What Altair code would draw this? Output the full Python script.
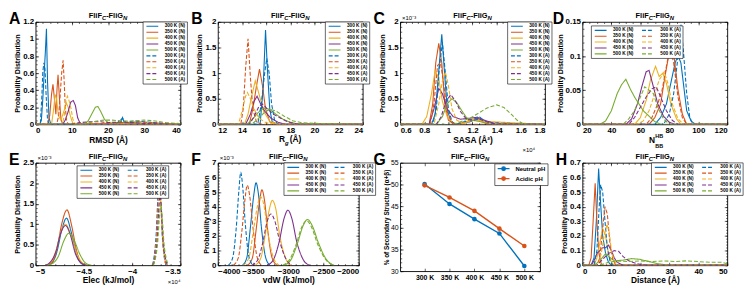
import altair as alt
import pandas as pd

FONT = "Liberation Sans"
temps = ["300 K", "350 K", "400 K", "450 K", "500 K"]
palette = ["#0072BD", "#D95319", "#EDB120", "#7E2F8E", "#77AC30"]
lab_N = [t + " (N)" for t in temps]
lab_A = [t + " (A)" for t in temps]
order1 = lab_N + lab_A

# ---------------- data ----------------
rmsd = {
    "300 K (N)": [(0, 0), (1.2, 0), (1.6, 0.05), (2.0, 0.3), (2.4, 0.62), (2.7, 0.85), (3.0, 1.12), (3.3, 0.5), (3.7, 0.08), (4.2, 0), (20, 0), (22, 0.01), (23.5, 0.02), (24, 0.08), (24.5, 0.02), (26, 0.01), (40, 0)],
    "350 K (N)": [(0, 0), (3.3, 0), (3.9, 0.1), (4.4, 0.35), (4.8, 0.47), (5.2, 0.3), (5.6, 0.12), (5.9, 0.4), (6.2, 0.58), (6.6, 0.3), (7.0, 0.06), (7.5, 0), (20, 0.01), (25, 0.02), (30, 0.01), (40, 0)],
    "400 K (N)": [(0, 0), (4.4, 0), (4.9, 0.15), (5.4, 0.35), (5.8, 0.3), (6.3, 0.1), (7.0, 0.05), (7.8, 0.15), (8.5, 0.25), (9.0, 0.2), (9.6, 0.1), (10.2, 0.02), (11, 0), (40, 0)],
    "450 K (N)": [(0, 0), (7.5, 0), (8.2, 0.05), (9.0, 0.15), (9.7, 0.26), (10.4, 0.28), (11.0, 0.22), (11.6, 0.08), (12.3, 0.01), (13, 0), (40, 0)],
    "500 K (N)": [(0, 0), (13.5, 0), (14.5, 0.04), (15.5, 0.12), (16.5, 0.2), (17.2, 0.21), (18, 0.15), (19, 0.06), (20, 0.02), (21, 0.01), (25, 0.02), (30, 0.01), (40, 0)],
    "300 K (A)": [(0, 0), (1.3, 0), (1.7, 0.3), (2.0, 0.62), (2.3, 0.72), (2.6, 0.65), (2.9, 0.35), (3.3, 0.05), (3.8, 0), (22, 0), (24, 0.07), (25, 0.02), (27, 0.04), (30, 0.03), (33, 0.02), (40, 0)],
    "350 K (A)": [(0, 0), (5.8, 0), (6.4, 0.1), (6.8, 0.35), (7.2, 0.6), (7.6, 0.75), (7.9, 0.5), (8.2, 0.2), (8.6, 0.03), (9.2, 0), (25, 0.02), (28, 0.03), (32, 0.02), (40, 0)],
    "400 K (A)": [(0, 0), (7.4, 0), (7.9, 0.1), (8.4, 0.28), (8.8, 0.33), (9.3, 0.27), (9.8, 0.18), (10.3, 0.06), (11, 0), (40, 0)],
    "450 K (A)": [(0, 0), (10, 0), (12, 0.02), (15, 0.03), (18, 0.03), (20, 0.02), (24, 0.03), (27, 0.02), (30, 0.01), (40, 0)],
    "500 K (A)": [(0, 0), (13, 0), (15, 0.02), (17, 0.04), (19, 0.05), (21, 0.05), (24, 0.04), (27, 0.04), (30, 0.05), (33, 0.04), (36, 0.02), (40, 0.01)],
}

rg = {
    "300 K (N)": [(12, 0), (15.5, 0), (15.75, 0.7), (15.95, 1.84), (16.1, 1.1), (16.3, 0.3), (16.5, 0.05), (17, 0), (24, 0)],
    "350 K (N)": [(12, 0), (14.6, 0), (14.9, 0.3), (15.2, 0.75), (15.45, 1.08), (15.7, 0.75), (15.95, 0.3), (16.3, 0.05), (16.8, 0), (24, 0)],
    "400 K (N)": [(12, 0), (14.2, 0), (14.5, 0.2), (14.8, 0.55), (15.1, 0.85), (15.4, 0.6), (15.8, 0.25), (16.3, 0.06), (17, 0), (24, 0)],
    "450 K (N)": [(12, 0), (14.3, 0), (14.7, 0.2), (15.0, 0.45), (15.25, 0.55), (15.5, 0.42), (15.9, 0.25), (16.4, 0.12), (17, 0.04), (17.6, 0), (24, 0)],
    "500 K (N)": [(12, 0), (14.4, 0), (14.8, 0.08), (15.3, 0.22), (15.8, 0.32), (16.3, 0.29), (16.8, 0.2), (17.4, 0.1), (18.0, 0.04), (18.6, 0.01), (19, 0), (24, 0)],
    "300 K (A)": [(12, 0), (15.3, 0), (15.6, 0.4), (15.85, 0.95), (16.05, 1.29), (16.25, 1.0), (16.45, 0.4), (16.7, 0.08), (17, 0), (24, 0)],
    "350 K (A)": [(12, 0), (13.9, 0), (14.1, 0.3), (14.3, 1.1), (14.5, 1.67), (14.7, 0.9), (14.9, 0.3), (15.2, 0.05), (15.6, 0), (24, 0)],
    "400 K (A)": [(12, 0), (13.7, 0), (14.0, 0.25), (14.3, 0.55), (14.45, 0.62), (14.7, 0.5), (15.0, 0.3), (15.4, 0.12), (16, 0.03), (17, 0), (24, 0)],
    "450 K (A)": [(12, 0), (14.6, 0), (15.0, 0.15), (15.4, 0.35), (15.7, 0.4), (16.1, 0.3), (16.6, 0.2), (17.2, 0.12), (17.8, 0.05), (18.5, 0.01), (19, 0), (24, 0)],
    "500 K (A)": [(12, 0), (14.8, 0), (15.3, 0.1), (15.8, 0.22), (16.3, 0.3), (16.8, 0.26), (17.5, 0.16), (18.2, 0.07), (19, 0.03), (20, 0.02), (22, 0.01), (24, 0)],
}

sasa = {
    "300 K (N)": [(0.6, 0), (0.86, 0), (0.89, 0.2), (0.915, 0.9), (0.945, 1.76), (0.965, 1.1), (0.99, 0.3), (1.02, 0.05), (1.05, 0), (1.18, 0.05), (1.24, 0.12), (1.3, 0.05), (1.35, 0), (1.8, 0)],
    "350 K (N)": [(0.6, 0), (0.84, 0), (0.87, 0.4), (0.895, 1.2), (0.92, 1.58), (0.945, 1.2), (0.97, 0.4), (1.0, 0.08), (1.05, 0), (1.2, 0.08), (1.25, 0.1), (1.3, 0.03), (1.35, 0), (1.8, 0)],
    "400 K (N)": [(0.6, 0), (0.78, 0), (0.82, 0.15), (0.86, 0.6), (0.89, 1.05), (0.92, 0.9), (0.95, 0.45), (0.99, 0.15), (1.04, 0.03), (1.1, 0), (1.22, 0.1), (1.28, 0.06), (1.8, 0)],
    "450 K (N)": [(0.6, 0), (0.84, 0), (0.88, 0.3), (0.92, 0.7), (0.95, 0.6), (0.99, 0.3), (1.04, 0.15), (1.1, 0.1), (1.18, 0.12), (1.24, 0.14), (1.3, 0.08), (1.38, 0.02), (1.8, 0)],
    "500 K (N)": [(0.6, 0), (0.9, 0), (0.95, 0.15), (0.99, 0.4), (1.03, 0.5), (1.07, 0.42), (1.11, 0.27), (1.15, 0.13), (1.2, 0.08), (1.25, 0.06), (1.3, 0.03), (1.4, 0), (1.8, 0)],
    "300 K (A)": [(0.6, 0), (0.87, 0), (0.9, 0.3), (0.925, 1.1), (0.95, 1.6), (0.975, 1.0), (1.0, 0.3), (1.03, 0.05), (1.06, 0), (1.2, 0.1), (1.26, 0.14), (1.32, 0.03), (1.8, 0)],
    "350 K (A)": [(0.6, 0), (0.85, 0), (0.88, 0.4), (0.91, 1.15), (0.935, 1.2), (0.96, 0.8), (0.99, 0.25), (1.03, 0.03), (1.06, 0), (1.8, 0)],
    "400 K (A)": [(0.6, 0), (0.88, 0), (0.92, 0.4), (0.95, 0.85), (0.975, 1.02), (1.0, 0.75), (1.03, 0.3), (1.07, 0.08), (1.12, 0.02), (1.2, 0.1), (1.27, 0.08), (1.35, 0.01), (1.8, 0)],
    "450 K (A)": [(0.6, 0), (0.9, 0), (0.94, 0.15), (0.98, 0.45), (1.02, 0.58), (1.06, 0.45), (1.1, 0.25), (1.15, 0.1), (1.2, 0.08), (1.26, 0.1), (1.33, 0.04), (1.4, 0), (1.8, 0)],
    "500 K (A)": [(0.6, 0), (1.05, 0), (1.1, 0.05), (1.18, 0.12), (1.25, 0.22), (1.32, 0.32), (1.4, 0.38), (1.46, 0.33), (1.52, 0.2), (1.57, 0.08), (1.62, 0.01), (1.66, 0), (1.8, 0)],
}

nhb = {
    "300 K (N)": [(20, 0), (70, 0), (74, 0.01), (78, 0.03), (81, 0.06), (84, 0.09), (86, 0.101), (88, 0.09), (90, 0.055), (92, 0.02), (95, 0.005), (98, 0), (120, 0)],
    "350 K (N)": [(20, 0), (66, 0), (70, 0.01), (74, 0.03), (77, 0.07), (79.5, 0.1), (81.5, 0.12), (83.5, 0.095), (86, 0.05), (89, 0.015), (92, 0), (120, 0)],
    "400 K (N)": [(20, 0), (56, 0), (60, 0.01), (64, 0.035), (67, 0.065), (70.5, 0.085), (73, 0.07), (75.5, 0.075), (78, 0.06), (81, 0.03), (85, 0.008), (88, 0), (120, 0)],
    "450 K (N)": [(20, 0), (50, 0), (54, 0.008), (58, 0.03), (61, 0.055), (64, 0.077), (66, 0.079), (69, 0.055), (72, 0.03), (76, 0.012), (80, 0.003), (84, 0), (120, 0)],
    "500 K (N)": [(20, 0), (32, 0), (36, 0.005), (40, 0.02), (44, 0.045), (47, 0.058), (50, 0.066), (53, 0.052), (56, 0.04), (59, 0.03), (62, 0.02), (66, 0.012), (70, 0.004), (74, 0), (120, 0)],
    "300 K (A)": [(20, 0), (76, 0), (80, 0.015), (83, 0.045), (85.5, 0.09), (88, 0.146), (90, 0.1), (92, 0.045), (94, 0.012), (96, 0), (120, 0)],
    "350 K (A)": [(20, 0), (64, 0), (68, 0.01), (72, 0.03), (75, 0.05), (78, 0.085), (80.5, 0.112), (83, 0.09), (86, 0.04), (89, 0.01), (92, 0), (120, 0)],
    "400 K (A)": [(20, 0), (58, 0), (62, 0.005), (66, 0.02), (70, 0.045), (73, 0.065), (76.5, 0.077), (79, 0.06), (82, 0.03), (86, 0.008), (90, 0), (120, 0)],
    "450 K (A)": [(20, 0), (52, 0), (56, 0.01), (60, 0.025), (64, 0.04), (68, 0.052), (71, 0.055), (74, 0.04), (78, 0.02), (82, 0.006), (86, 0), (120, 0)],
    "500 K (A)": [(20, 0), (48, 0), (52, 0.008), (56, 0.02), (60, 0.04), (63, 0.055), (66, 0.05), (69, 0.045), (72, 0.025), (76, 0.008), (80, 0), (120, 0)],
}

elec = {
    "300 K (N)": list(zip([-4.88, -4.83, -4.78, -4.73, -4.68, -4.63, -4.58, -4.53, -4.48], [0, 0.06, 0.32, 0.85, 1.15, 0.8, 0.3, 0.05, 0])),
    "350 K (N)": list(zip([-4.88, -4.83, -4.78, -4.73, -4.675, -4.625, -4.575, -4.525, -4.475], [0, 0.07, 0.38, 1.0, 1.35, 0.95, 0.35, 0.06, 0])),
    "400 K (N)": list(zip([-4.90, -4.84, -4.79, -4.74, -4.69, -4.64, -4.58, -4.52, -4.46], [0, 0.08, 0.35, 0.8, 1.0, 0.78, 0.32, 0.07, 0])),
    "450 K (N)": list(zip([-4.90, -4.85, -4.79, -4.74, -4.69, -4.64, -4.59, -4.53, -4.47], [0, 0.07, 0.33, 0.78, 0.97, 0.74, 0.3, 0.06, 0])),
    "500 K (N)": list(zip([-4.88, -4.82, -4.76, -4.71, -4.655, -4.60, -4.54, -4.48, -4.42], [0, 0.05, 0.24, 0.58, 0.78, 0.6, 0.26, 0.05, 0])),
    "300 K (A)": list(zip([-3.79, -3.77, -3.75, -3.735, -3.72, -3.705, -3.69, -3.67, -3.65], [0, 0.25, 0.8, 1.6, 2.2, 1.65, 0.8, 0.25, 0])),
    "350 K (A)": list(zip([-3.787, -3.767, -3.747, -3.732, -3.717, -3.702, -3.687, -3.667, -3.647], [0, 0.22, 0.75, 1.5, 2.0, 1.5, 0.75, 0.22, 0])),
    "400 K (A)": list(zip([-3.785, -3.764, -3.744, -3.729, -3.714, -3.699, -3.683, -3.662, -3.64], [0, 0.2, 0.65, 1.3, 1.75, 1.35, 0.65, 0.2, 0])),
    "450 K (A)": list(zip([-3.783, -3.762, -3.741, -3.726, -3.711, -3.695, -3.679, -3.657, -3.635], [0, 0.2, 0.62, 1.28, 1.7, 1.3, 0.62, 0.2, 0])),
    "500 K (A)": list(zip([-3.78, -3.758, -3.736, -3.72, -3.704, -3.688, -3.671, -3.648, -3.62], [0, 0.18, 0.55, 1.1, 1.5, 1.15, 0.55, 0.18, 0])),
}

vdw = {
    "300 K (N)": list(zip([-3650, -3590, -3540, -3490, -3458, -3425, -3380, -3320, -3260], [0, 0.5, 2.5, 4.8, 5.63, 4.9, 2.5, 0.5, 0])),
    "350 K (N)": list(zip([-3580, -3510, -3460, -3410, -3375, -3340, -3290, -3230, -3160], [0, 0.5, 2.3, 4.3, 5.15, 4.5, 2.3, 0.5, 0])),
    "400 K (N)": list(zip([-3470, -3390, -3330, -3270, -3227, -3180, -3120, -3040, -2960], [0, 0.5, 2.0, 3.8, 4.43, 3.9, 2.0, 0.5, 0])),
    "450 K (N)": list(zip([-3300, -3210, -3130, -3060, -3005, -2950, -2880, -2790, -2700], [0, 0.4, 1.6, 3.2, 3.76, 3.2, 1.6, 0.4, 0])),
    "500 K (N)": list(zip([-3060, -2960, -2870, -2790, -2727, -2660, -2570, -2460, -2350], [0, 0.4, 1.5, 2.7, 3.13, 2.7, 1.5, 0.4, 0])),
    "300 K (A)": list(zip([-3850, -3790, -3740, -3700, -3676, -3650, -3610, -3560, -3500], [0, 0.5, 2.5, 5.2, 6.35, 5.5, 2.8, 0.6, 0])),
    "350 K (A)": list(zip([-3780, -3710, -3660, -3615, -3583, -3550, -3500, -3440, -3380], [0, 0.5, 2.3, 4.5, 5.47, 4.8, 2.5, 0.5, 0])),
    "400 K (A)": list(zip([-3640, -3560, -3500, -3440, -3400, -3350, -3290, -3210, -3130], [0, 0.5, 2.2, 4.0, 4.7, 4.2, 2.2, 0.5, 0])),
    "450 K (A)": list(zip([-3520, -3430, -3360, -3300, -3250, -3190, -3120, -3030, -2950], [0, 0.4, 1.6, 3.0, 3.5, 3.0, 1.6, 0.4, 0])),
    "500 K (A)": list(zip([-3080, -2980, -2890, -2810, -2741, -2670, -2580, -2470, -2360], [0, 0.4, 1.4, 2.6, 3.05, 2.6, 1.4, 0.4, 0])),
}

dist = {
    "300 K (N)": [(0, 0), (3, 0), (4, 0.05), (4.8, 0.3), (5.6, 0.66), (6.2, 0.45), (7, 0.2), (8, 0.08), (9, 0.02), (10, 0), (50, 0)],
    "350 K (N)": [(0, 0), (2.2, 0), (3, 0.05), (3.7, 0.3), (4.4, 0.56), (5, 0.3), (5.7, 0.08), (6.5, 0.01), (7, 0), (50, 0)],
    "400 K (N)": [(0, 0), (4, 0), (5, 0.05), (6, 0.15), (7, 0.25), (8, 0.2), (9, 0.08), (10, 0.02), (11, 0), (50, 0)],
    "450 K (N)": [(0, 0), (3, 0), (4, 0.03), (5, 0.08), (6, 0.1), (7, 0.12), (8, 0.12), (9, 0.137), (10, 0.1), (11, 0.05), (12, 0.02), (14, 0), (50, 0)],
    "500 K (N)": [(0, 0), (4, 0), (6, 0.03), (8, 0.08), (9, 0.06), (11, 0.03), (14, 0.035), (17, 0.045), (20, 0.04), (23, 0.025), (26, 0.01), (30, 0), (50, 0)],
    "300 K (A)": [(0, 0), (4, 0), (5, 0.1), (5.8, 0.4), (6.3, 0.55), (7, 0.5), (7.8, 0.3), (8.6, 0.12), (9.5, 0.03), (10.5, 0), (50, 0)],
    "350 K (A)": [(0, 0), (5, 0), (6, 0.05), (7, 0.25), (7.8, 0.4), (8.6, 0.35), (9.5, 0.15), (10.5, 0.04), (11.5, 0), (50, 0)],
    "400 K (A)": [(0, 0), (5.5, 0), (6.5, 0.08), (7.5, 0.2), (8.5, 0.28), (9.3, 0.22), (10, 0.1), (11, 0.03), (12, 0), (50, 0)],
    "450 K (A)": [(0, 0), (5, 0), (7, 0.04), (9, 0.08), (11, 0.1), (12.5, 0.095), (14, 0.06), (16, 0.03), (19, 0.01), (22, 0), (50, 0)],
    "500 K (A)": [(0, 0), (6, 0), (9, 0.02), (12, 0.03), (16, 0.025), (20, 0.03), (24, 0.025), (28, 0.03), (32, 0.025), (36, 0.03), (40, 0.025), (44, 0.02), (48, 0.02), (50, 0.01)],
}

g_neutral = [50.1, 45.5, 42.0, 38.7, 31.2]
g_acidic = [49.8, 47.0, 43.9, 39.8, 35.8]

# tick labels
a_x = [0, 10, 20, 30, 40]; a_y = [0, 0.2, 0.4, 0.6, 0.8, 1, 1.2]
b_x = [12, 14, 16, 18, 20, 22, 24]; b_y = [0, 0.5, 1, 1.5, 2]
c_x = [0.6, 0.8, 1, 1.2, 1.4, 1.6, 1.8]; c_y = [0, 0.5, 1, 1.5, 2]
d_x = [20, 40, 60, 80, 100, 120]; d_y = [0, 0.05, 0.1, 0.15]
e_x = [-5, -4.5, -4, -3.5]; e_y = [0, 0.5, 1, 1.5, 2, 2.5]
f_x = [-4000, -3500, -3000, -2500, -2000]; f_y = [0, 1, 2, 3, 4, 5, 6, 7]
g_x = [1, 2, 3, 4, 5]; g_y = [30, 35, 40, 45, 50, 55]
h_x = [0, 10, 20, 30, 40, 50]; h_y = [0, 0.1, 0.2, 0.3, 0.4, 0.5, 0.6, 0.7]

FMT = ".6~g"

# ---------------- helpers ----------------
one = pd.DataFrame({"k": [0]})


def minor(lo, hi, step):
    n = int(round((hi - lo) / step))
    return [round(lo + i * step, 6) for i in range(n + 1)]


def to_df(d):
    rows = []
    for s, pts in d.items():
        for i, (x, y) in enumerate(pts):
            rows.append({"x": x, "y": y, "s": s, "o": i})
    return pd.DataFrame(rows)


def txt(s, x, y, size, weight="bold", style="normal", align="left"):
    return alt.Chart(one).mark_text(
        text=s, font=FONT, fontSize=size, fontWeight=weight, fontStyle=style,
        align=align, baseline="alphabetic", color="black"
    ).encode(x=alt.value(x), y=alt.value(y))


def head(letter, W, lx=-27):
    s = W / 2 - 19.5
    return [txt(letter, lx, 2, 16),
            txt("FliF", s, -4, 7.5), txt("C", s + 13.3, -1.5, 6, style="italic"),
            txt("-FliG", s + 17.6, -4, 7.5), txt("N", s + 34.7, -1.5, 6, style="italic")]


def frame_ticks(df, xf, yf, xs, ys, W, H, xmaj, xmin, ymaj, ymin):
    out = []
    for xv, yv, size in [(xmaj, ymaj, 3.0), (xmin, ymin, 1.6)]:
        for xo, yo in [("top", "right"), ("bottom", "left")]:
            ax = dict(labels=False, title=None, domain=False, grid=False, ticks=True,
                      tickSize=size, tickWidth=0.6, tickColor="black")
            out.append(alt.Chart(df).mark_point(opacity=0).encode(
                x=alt.X(xf, scale=xs, axis=alt.Axis(orient=xo, offset=-H, values=xv, **ax)),
                y=alt.Y(yf, scale=ys, axis=alt.Axis(orient=yo, offset=-W, values=yv, **ax))))
    return out


def legend(cols, lx, ly):
    return alt.Legend(
        title=None, orient="none", legendX=lx, legendY=ly, columns=cols, columnPadding=6,
        rowPadding=0, symbolType="M-4,0H4", symbolSize=9, symbolStrokeWidth=1.1,
        symbolOffset=5, labelOffset=10, labelFontSize=4.8, labelFont=FONT,
        labelBaseline="middle", labelFontWeight="bold", labelColor="black",
        strokeColor="black", fillColor="white", padding=2, cornerRadius=0)


def line_panel(letter, data, xdom, ydom, xmaj, xstep, ymaj, ystep, W, H,
               xtitle, leg, interp="linear", extra=(), lx=-27):
    df = to_df(data)
    xs = alt.Scale(domain=xdom, nice=False, zero=False)
    ys = alt.Scale(domain=ydom, nice=False, zero=False)
    order = order1
    cr = [palette[temps.index(l[:5])] for l in order]
    dr = [[1, 0] if l.endswith("(N)") else [4, 2] for l in order]
    xaxis = dict(orient="bottom", values=xmaj, format=FMT, ticks=False)
    if xtitle:
        xaxis["title"] = xtitle
    else:
        xaxis["title"] = None
    main = alt.Chart(df).mark_line(strokeWidth=1.1, interpolate=interp, clip=True).encode(
        x=alt.X("x:Q", scale=xs, axis=alt.Axis(**xaxis)),
        y=alt.Y("y:Q", scale=ys, axis=alt.Axis(orient="left", values=ymaj, format=FMT, ticks=False,
                                               title="Probability Distribution", titleFontSize=7.2)),
        color=alt.Color("s:N", scale=alt.Scale(domain=order, range=cr), legend=leg),
        strokeDash=alt.StrokeDash("s:N", scale=alt.Scale(domain=order, range=dr), legend=leg),
        order="o:Q")
    layers = [main] + frame_ticks(df, "x:Q", "y:Q", xs, ys, W, H, xmaj,
                                  minor(xdom[0], xdom[1], xstep), ymaj,
                                  minor(ydom[0], ydom[1], ystep))
    layers += head(letter, W, lx) + list(extra)
    return alt.layer(*layers).resolve_axis(x="independent", y="independent").properties(width=W, height=H)


W1, H1 = 147, 104
H2 = 104

pA = line_panel("A", rmsd, [0, 40], [0, 1.2], a_x, 2, a_y, 0.05, W1, H1,
                "RMSD (Å)", legend(1, W1 - 38, 0))
pB = line_panel("B", rg, [12, 24], [0, 2], b_x, 0.5, b_y, 0.1, W1, H1,
                None, legend(1, W1 - 38, 0),
                extra=[txt("R", W1 / 2 - 11.5, H1 + 18, 8.5), txt("g", W1 / 2 - 5.4, H1 + 20.5, 6, style="italic"),
                       txt("(Å)", W1 / 2 - 0.5, H1 + 18, 8.5)])
pC = line_panel("C", sasa, [0.6, 1.8], [0, 2], c_x, 0.05, c_y, 0.1, W1, H1,
                "SASA (Å²)", legend(1, W1 - 38, 0),
                extra=[txt("×10⁻³", 2, -1.5, 6, weight="normal"),
                       txt("×10⁴", W1 - 10, H1 + 28, 6, weight="normal", align="right")])
pD = line_panel("D", nhb, [20, 120], [0, 0.15], d_x, 5, d_y, 0.01, W1, H1,
                None, legend(2, 9, 4), lx=-30,
                extra=[txt("N", W1 / 2 - 6, H1 + 19, 8.5), txt("HB", W1 / 2 + 0.5, H1 + 13.5, 5.5),
                       txt("BB", W1 / 2 + 0.5, H1 + 24, 5.5)])
pE = line_panel("E", elec, [-5, -3.5], [0, 2.5], e_x, 0.1, e_y, 0.1, 147, H2,
                "Elec (kJ/mol)", legend(2, 42, 3), interp="monotone",
                extra=[txt("×10⁻³", 2, -3, 6, weight="normal"),
                       txt("×10⁴", 147, H2 + 19, 6, weight="normal", align="right")])
pF = line_panel("F", vdw, [-4000, -2000], [0, 7], f_x, 100, f_y, 0.2, 143, H2,
                "vdW (kJ/mol)", legend(2, 143 - 76, 0), interp="monotone",
                extra=[txt("×10⁻³", 2, -3, 6, weight="normal")])
pH = line_panel("H", dist, [0, 50], [0, 0.7], h_x, 2, h_y, 0.02, 147, H2,
                "Distance (Å)", legend(2, 147 - 77, 0))

# ---------------- panel G ----------------
GW, GH = 142, 110
gdf = pd.DataFrame({"i": g_x * 2, "v": g_neutral + g_acidic,
                    "c": ["Neutral pH"] * 5 + ["Acidic pH"] * 5})
gx = alt.Scale(domain=[0.02, 5.63], nice=False, zero=False)
gy = alt.Scale(domain=[30, 55], nice=False, zero=False)
gcol = alt.Scale(domain=["Neutral pH", "Acidic pH"], range=[palette[0], palette[1]])
gleg = alt.Legend(title=None, orient="none", legendX=GW - 46, legendY=1,
                  symbolType="M-3,0H3M-0.9,0A0.9,0.9 0 1,0 0.9,0A0.9,0.9 0 1,0 -0.9,0",
                  symbolSize=16, symbolStrokeWidth=1.3, symbolOffset=4,
                  labelFontSize=6, labelFont=FONT, labelFontWeight="bold",
                  labelColor="black", strokeColor="black", fillColor="white", padding=2,
                  rowPadding=0, labelOffset=9, cornerRadius=0)
lab_expr = "[" + ",".join("'" + t + "'" for t in temps) + "][datum.value-1]"
gline = alt.Chart(gdf).mark_line(strokeWidth=1.4).encode(
    x=alt.X("i:Q", scale=gx, axis=alt.Axis(orient="bottom", values=g_x, labelExpr=lab_expr,
                                           ticks=False, title=None, labelFontSize=7)),
    y=alt.Y("v:Q", scale=gy, axis=alt.Axis(orient="left", values=g_y, ticks=False,
                                           title="% of Secondary Structure (α+β)",
                                           titleFontSize=6.5, labelFontSize=7, labelFontWeight="normal")),
    color=alt.Color("c:N", scale=gcol, legend=gleg))
gpts = alt.Chart(gdf).mark_point(filled=True, size=22, opacity=1).encode(
    x=alt.X("i:Q", scale=gx, axis=None), y=alt.Y("v:Q", scale=gy, axis=None),
    color=alt.Color("c:N", scale=gcol, legend=gleg))
pG = alt.layer(gline, gpts, *frame_ticks(gdf, "i:Q", "v:Q", gx, gy, GW, GH, g_x, [],
                                         g_y, minor(30, 55, 1)),
               *head("G", GW)).resolve_axis(x="independent", y="independent").properties(width=GW, height=GH)

chart = alt.concat(pA, pB, pC, pD, pE, pF, pG, pH, columns=4,
                   spacing={"row": 39, "column": 38}, bounds="flush").resolve_scale(
    color="independent", strokeDash="independent"
).resolve_legend(
    color="independent", strokeDash="independent"
).properties(
    padding=0
).configure_view(stroke="black", strokeWidth=0.9).configure_axis(
    labelFont=FONT, titleFont=FONT, labelFontSize=8, labelFontWeight="bold",
    titleFontSize=8.5, titleFontWeight="bold", labelColor="black", titleColor="black",
    grid=False, domain=False, minExtent=0, labelPadding=2, titlePadding=1, tickColor="black"
).configure_legend(strokeWidth=0.6)

chart.save("out.html", embed_options={"renderer": "svg", "actions": False})
